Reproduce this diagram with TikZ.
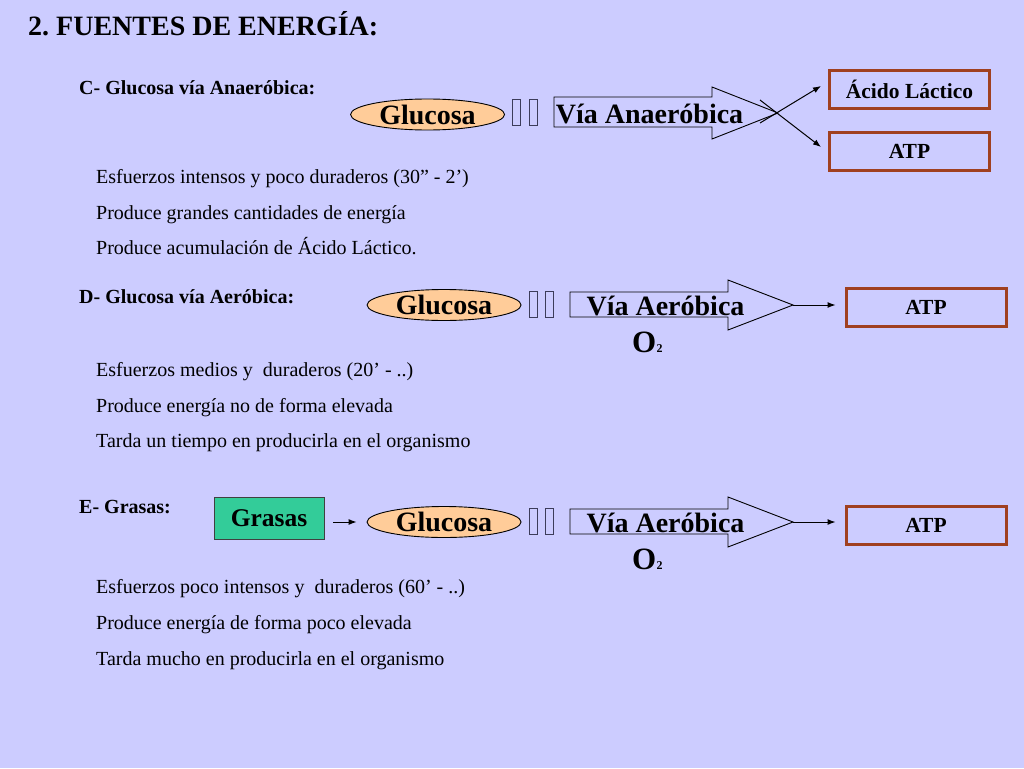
\documentclass[tikz,border=0pt]{standalone}
\usepackage{fontspec}
\setmainfont{Liberation Serif}
\usetikzlibrary{arrows.meta,shapes.geometric}
\definecolor{bgc}{RGB}{204,204,255}
\definecolor{gluc}{RGB}{255,204,153}
\definecolor{grasc}{RGB}{51,204,153}
\definecolor{brn}{RGB}{160,64,32}
\definecolor{tofuc}{RGB}{60,60,90}
\frenchspacing
\begin{document}
\begin{tikzpicture}[x=1pt,y=-1pt,
  titletxt/.style={anchor=base west,inner sep=0,font=\fontsize{28}{30}\selectfont\bfseries},
  headtxt/.style={anchor=base west,inner sep=0,font=\fontsize{20}{22}\selectfont\bfseries},
  bodytxt/.style={anchor=base west,inner sep=0,font=\fontsize{20}{22}\selectfont},
  glunode/.style={ellipse,draw=black,line width=0.9,fill=gluc,minimum width=154,minimum height=31,inner sep=0,font=\fontsize{28}{30}\selectfont\bfseries},
  tofu/.style={draw=tofuc,line width=0.9,minimum width=8,minimum height=26,inner sep=0},
  outbox/.style={draw=brn,line width=3,minimum width=160,minimum height=38,inner sep=0,font=\fontsize{21.5}{23}\selectfont\bfseries},
  grasbox/.style={draw=black!75,line width=0.9,fill=grasc,minimum width=110,minimum height=42,inner sep=0,font=\fontsize{25.5}{27}\selectfont\bfseries},
  blockarrow/.style={draw=black,line width=0.9},
  viatxt/.style={anchor=base,inner sep=0,font=\fontsize{28}{30}\selectfont\bfseries},
  otxt/.style={anchor=base west,inner sep=0,font=\fontsize{31}{32}\selectfont\bfseries},
  subtxt/.style={anchor=base west,inner sep=0,font=\fontsize{12}{13}\selectfont\bfseries},
  arr/.style={-{Latex[length=8,width=6]},line width=1}
]
\useasboundingbox (0,0) rectangle (1024,768);
\fill[bgc] (0,0) rectangle (1024,768);

% Title
\node[titletxt] (title) at (28,36) {2. FUENTES DE ENERGÍA:};

% ---------- Section C ----------
\node[headtxt] (hC) at (79,94) {C- Glucosa vía Anaeróbica:};
\node[glunode] (gluC) at (427.5,114.5) {Glucosa};
\node[tofu] (tC1) at (516.5,112) {};
\node[tofu] (tC2) at (533,112) {};
\draw[blockarrow] (554,97) -- (712,97) -- (712,87) -- (778,113) -- (712,139) -- (712,127) -- (554,127) -- cycle;
\coordinate (tipC) at (778,113);
\node[viatxt] (viaC) at (649.5,123) {Vía Anaeróbica};
\node[outbox] (acido) at (909.5,89) {Ácido Láctico};
\node[outbox] (atpC) at (909.5,151.5) {ATP};
\coordinate (sC1) at (760,123);
\coordinate (eC1) at (821,86);
\coordinate (sC2) at (760,100);
\coordinate (eC2) at (821,147);
\draw[arr] (sC1) -- (eC1);
\draw[arr] (sC2) -- (eC2);

\node[bodytxt] (bC1) at (96,183) {Esfuerzos intensos y poco duraderos (30” - 2’)};
\node[bodytxt] (bC2) at (96,219) {Produce grandes cantidades de energía};
\node[bodytxt] (bC3) at (96,254.5) {Produce acumulación de Ácido Láctico.};

% ---------- Section D ----------
\node[headtxt] (hD) at (79,303.5) {D- Glucosa vía Aeróbica:};
\node[glunode] (gluD) at (444,305) {Glucosa};
\node[tofu] (tD1) at (533,304.5) {};
\node[tofu] (tD2) at (549,304.5) {};
\draw[blockarrow] (570,292) -- (728,292) -- (728,280) -- (793,305) -- (728,330) -- (728,317) -- (570,317) -- cycle;
\coordinate (tipD) at (793,305);
\node[viatxt] (viaD) at (665.5,315) {Vía Aeróbica};
\node[otxt] (oD) at (632,352) {O};
\node[subtxt] (sD) at (oD.base east) {2};
\node[outbox] (atpD) at (926,307.5) {ATP};
\draw[arr] (tipD) -- ([xshift=-9]tipD -| atpD.west);

\node[bodytxt] (bD1) at (96,376) {Esfuerzos medios y~ duraderos (20’ - ..)};
\node[bodytxt] (bD2) at (96,412) {Produce energía no de forma elevada};
\node[bodytxt] (bD3) at (96,447.5) {Tarda un tiempo en producirla en el organismo};

% ---------- Section E ----------
\node[headtxt] (hE) at (79,513.5) {E- Grasas:};
\node[grasbox] (gras) at (269,518) {Grasas};
\node[glunode] (gluE) at (444,522) {Glucosa};
\draw[arr] ([xshift=9]gras.east |- gluE.west) -- ([xshift=-10]gluE.west);
\node[tofu] (tE1) at (533,521.5) {};
\node[tofu] (tE2) at (549,521.5) {};
\draw[blockarrow] (570,509) -- (728,509) -- (728,497) -- (793,522) -- (728,547) -- (728,534) -- (570,534) -- cycle;
\coordinate (tipE) at (793,522);
\node[viatxt] (viaE) at (665.5,532) {Vía Aeróbica};
\node[otxt] (oE) at (632,569) {O};
\node[subtxt] (sE) at (oE.base east) {2};
\node[outbox] (atpE) at (926,525) {ATP};
\draw[arr] (tipE) -- ([xshift=-9]tipE -| atpE.west);

\node[bodytxt] (bE1) at (96,593.5) {Esfuerzos poco intensos y~ duraderos (60’ - ..)};
\node[bodytxt] (bE2) at (96,629) {Produce energía de forma poco elevada};
\node[bodytxt] (bE3) at (96,665) {Tarda mucho en producirla en el organismo};
\end{tikzpicture}
\end{document}
